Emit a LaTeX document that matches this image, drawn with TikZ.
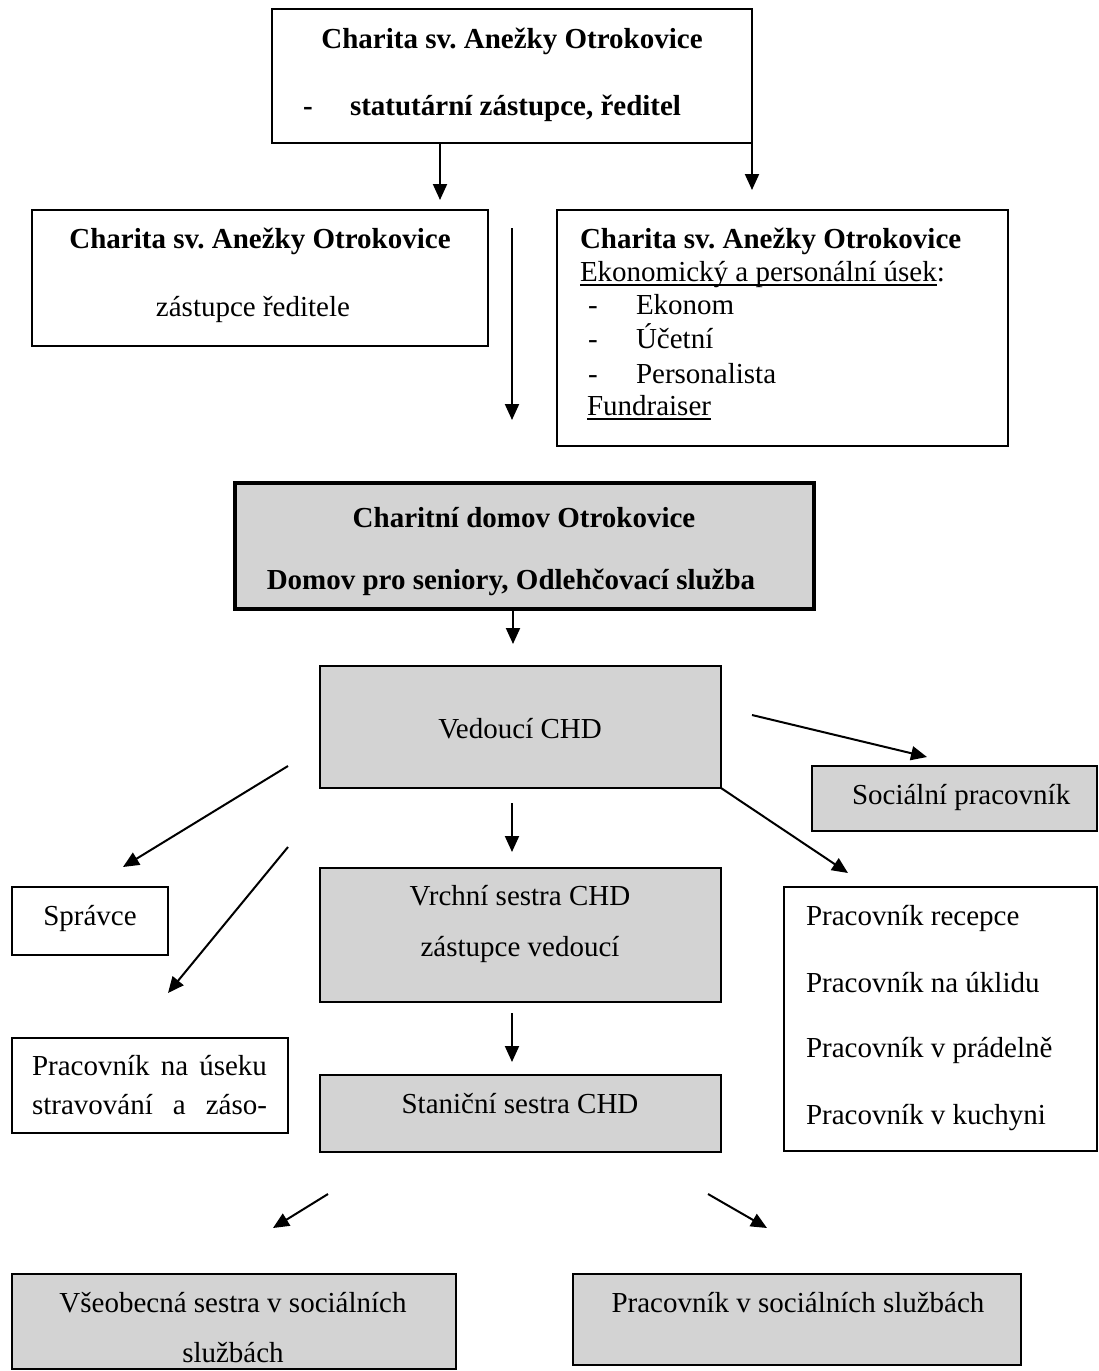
\documentclass[tikz,border=0pt]{standalone}
\usepackage{fontspec}
\setmainfont{Liberation Serif}
\usetikzlibrary{arrows.meta}
\definecolor{boxgray}{RGB}{211,211,211}
\frenchspacing
\begin{document}
\begin{tikzpicture}[x=1pt,y=-1pt,
  box/.style={draw=black, line width=1.6pt, inner sep=0pt, outer sep=0pt, anchor=north west},
  graybox/.style={box, fill=boxgray},
  txt/.style={inner sep=0pt, outer sep=0pt, font=\fontsize{29}{33}\selectfont},
  btxt/.style={inner sep=0pt, outer sep=0pt, font=\fontsize{29}{33}\selectfont\bfseries},
  arr/.style={line width=2pt, -{Triangle[length=16pt,width=14pt]}},
  uline/.style={line width=1.4pt}]
\useasboundingbox (0,0) rectangle (1099,1371);

% ---- boxes ----
\node[box, minimum width=480pt, minimum height=134pt] (top) at (272,9) {};
\node[box, minimum width=456pt, minimum height=136pt] (ldir) at (32,210) {};
\node[box, minimum width=451pt, minimum height=236pt] (eko) at (557,210) {};
\node[graybox, line width=4pt, minimum width=579pt, minimum height=126pt] (chd) at (235,483) {};
\node[graybox, minimum width=401pt, minimum height=122pt] (ved) at (320,666) {};
\node[graybox, minimum width=401pt, minimum height=134pt] (vrch) at (320,868) {};
\node[graybox, minimum width=401pt, minimum height=77pt] (stan) at (320,1075) {};
\node[box, minimum width=156pt, minimum height=68pt] (spr) at (12,887) {};
\node[box, minimum width=276pt, minimum height=95pt] (stra) at (12,1038) {};
\node[graybox, minimum width=285pt, minimum height=65pt] (soc) at (812,766) {};
\node[box, minimum width=313pt, minimum height=264pt] (list) at (784,887) {};
\node[graybox, minimum width=444pt, minimum height=95pt] (vseo) at (12,1274) {};
\node[graybox, minimum width=448pt, minimum height=91pt] (psoc) at (573,1274) {};

% ---- texts ----
\node[btxt, anchor=base] (t1) at (512,48) {Charita sv. Anežky Otrokovice};
\node[btxt, anchor=base west] (t2d) at (303,115) {-};
\node[btxt, anchor=base west] (t2) at (350,115) {statutární zástupce, ředitel};

\node[btxt, anchor=base] (l1) at (260,248) {Charita sv. Anežky Otrokovice};
\node[txt, anchor=base] (l2) at (253,316) {zástupce ředitele};

\node[btxt, anchor=base west] (r1) at (580,248) {Charita sv. Anežky Otrokovice};
\node[txt, anchor=base west] (r2) at (580,281) {Ekonomický a personální úsek};
\node[txt, anchor=base west] (r2c) at (r2.base east) {:};
\draw[uline] ([yshift=-4pt]r2.base west) -- ([yshift=-4pt]r2.base east);
\node[txt, anchor=base west] (r3d) at (588,314) {-};
\node[txt, anchor=base west] (r3) at (636,314) {Ekonom};
\node[txt, anchor=base west] (r4d) at (588,348) {-};
\node[txt, anchor=base west] (r4) at (636,348) {Účetní};
\node[txt, anchor=base west] (r5d) at (588,383) {-};
\node[txt, anchor=base west] (r5) at (636,383) {Personalista};
\node[txt, anchor=base west] (r6) at (587,415) {Fundraiser};
\draw[uline] ([yshift=-4pt]r6.base west) -- ([yshift=-4pt]r6.base east);

\node[btxt, anchor=base] (c1) at (524,527) {Charitní domov Otrokovice};
\node[btxt, anchor=base] (c2) at (511,589) {Domov pro seniory, Odlehčovací služba};

\node[txt, anchor=base] (vt) at (520,738) {Vedoucí CHD};
\node[txt, anchor=base] (vr1) at (520,905) {Vrchní sestra CHD};
\node[txt, anchor=base] (vr2) at (520,956) {zástupce vedoucí};
\node[txt, anchor=base] (st) at (520,1113) {Staniční sestra CHD};
\node[txt, anchor=base] (sp) at (90,925) {Správce};
\node[txt, anchor=base west] (s1) at (32,1075) {\makebox[235pt][s]{Pracovník na úseku}};
\node[txt, anchor=base west] (s2) at (32,1114) {\makebox[235pt][s]{stravování a záso-}};
\node[txt, anchor=base west] (so) at (852,804) {Sociální pracovník};
\node[txt, anchor=base west] (p1) at (806,925) {Pracovník recepce};
\node[txt, anchor=base west] (p2) at (806,992) {Pracovník na úklidu};
\node[txt, anchor=base west] (p3) at (806,1057) {Pracovník v prádelně};
\node[txt, anchor=base west] (p4) at (806,1124) {Pracovník v kuchyni};
\node[txt, anchor=base] (vs1) at (233,1312) {Všeobecná sestra v sociálních};
\node[txt, anchor=base] (vs2) at (233,1362) {službách};
\node[txt, anchor=base] (ps) at (798,1312) {Pracovník v sociálních službách};

% ---- connector end points ----
\coordinate (a1e) at (440,200);
\coordinate (a2e) at (752,190);
\coordinate (a3s) at (512,228);
\coordinate (a3e) at (512,420);
\coordinate (a4e) at (513,644);
\coordinate (a5s) at (752,715);
\coordinate (a5e) at (927,757);
\coordinate (a6e) at (848,873);
\coordinate (a7s) at (288,766);
\coordinate (a7e) at (123,867);
\coordinate (a8s) at (288,847);
\coordinate (a8e) at (168,993);
\coordinate (a9s) at (512,803);
\coordinate (a9e) at (512,852);
\coordinate (a10s) at (512,1013);
\coordinate (a10e) at (512,1062);
\coordinate (a11s) at (328,1194);
\coordinate (a11e) at (273,1228);
\coordinate (a12s) at (708,1194);
\coordinate (a12e) at (767,1228);

% ---- connectors ----
\draw[arr] (top.south -| a1e) -- (a1e);
\draw[arr] (top.south east) -- (a2e);
\draw[arr] (a3s) -- (a3e);
\draw[arr] (chd.south -| a4e) -- (a4e);
\draw[arr] (a5s) -- (a5e);
\draw[arr] (ved.south east) -- (a6e);
\draw[arr] (a7s) -- (a7e);
\draw[arr] (a8s) -- (a8e);
\draw[arr] (a9s) -- (a9e);
\draw[arr] (a10s) -- (a10e);
\draw[arr] (a11s) -- (a11e);
\draw[arr] (a12s) -- (a12e);
\end{tikzpicture}
\end{document}
